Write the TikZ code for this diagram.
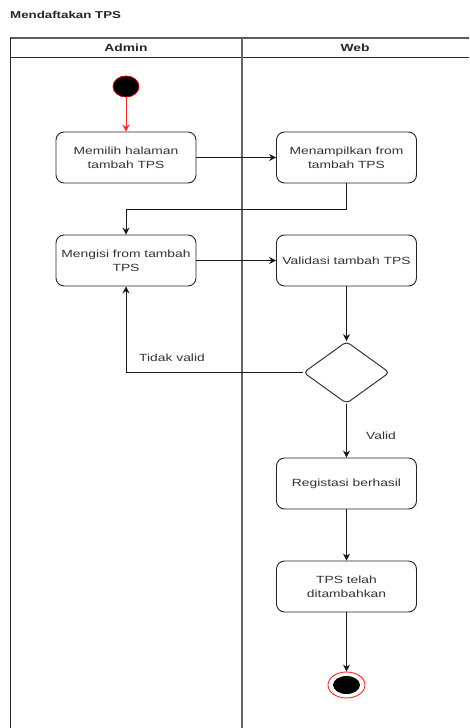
\documentclass[tikz,border=0pt]{standalone}
\usepackage{fontspec}
\setmainfont{Liberation Sans}[FakeStretch=1.33]
\usetikzlibrary{shapes.geometric,arrows.meta}
\tikzset{
  act/.style={draw=black!85, line width=0.9pt, rounded corners=8pt, minimum width=140pt, minimum height=51pt, align=center, inner sep=2pt, text=black!80, font=\fontsize{10.4}{14}\selectfont},
  arr/.style={draw=black!90, line width=0.9pt, -{Stealth[length=7pt,width=7pt]}},
  lane/.style={line width=1pt, draw=black!85},
  lbl/.style={text=black!80, font=\fontsize{10.4}{13}\selectfont}
}
\begin{document}
\begin{tikzpicture}[x=1pt,y=-1pt]
\useasboundingbox (0,0) rectangle (469,728);
\fill[white] (0,0) rectangle (469,728);
% title
\node[anchor=west, inner sep=0, text=black!85, font=\fontsize{10}{12}\selectfont\bfseries] (title) at (10,15) {Mendaftakan TPS};
% pool
\draw[lane, draw=black!65, line width=1.3pt] (10,38) -- (469,38);
\draw[lane] (10,57) -- (469,57);
\draw[lane] (10,38) -- (10,728);
\draw[lane, draw=black!60, line width=1.4pt] (242,38) -- (242,728);
\node[font=\fontsize{10.4}{12}\selectfont\bfseries, text=black!85] (hadmin) at (126,47.5) {Admin};
\node[font=\fontsize{10.4}{12}\selectfont\bfseries, text=black!85] (hweb) at (355,47.5) {Web};
% start
\node[ellipse, fill=black, draw=red!80!black, line width=0.8pt, minimum width=26pt, minimum height=21pt, inner sep=0] (start) at (126,86.5) {};
% activities
\node[act] (b1) at (126,157.5) {Memilih halaman\\tambah TPS};
\node[act] (b2) at (346.5,157.5) {Menampilkan from\\tambah TPS};
\node[act] (b3) at (126,260.5) {Mengisi from tambah\\TPS};
\node[act] (b4) at (346.5,260.5) {Validasi tambah TPS};
\node[diamond, draw=black!85, line width=0.9pt, aspect=1.39, minimum width=86pt, minimum height=62pt, inner sep=0, rounded corners=4pt] (dec) at (346.5,372.5) {};
\node[act] (b5) at (346.5,483.5) {Registasi berhasil};
\node[act] (b6) at (346.5,586.5) {TPS telah\\ditambahkan};
% end
\node[ellipse, draw=red!85, line width=0.9pt, minimum width=37pt, minimum height=26pt, inner sep=0] (endo) at (346.5,685) {};
\node[ellipse, fill=black, minimum width=27pt, minimum height=18pt, inner sep=0] (endi) at (346.5,685) {};
% connectors
\draw[arr, draw=red!85] (start) -- (b1);
\draw[arr] (b1) -- (b2);
\coordinate (c1) at (346.5,209);
\draw[arr] (b2.south) -- (c1) -| (b3.north);
\draw[arr] (b3) -- (b4);
\draw[arr] (b4) -- (dec);
\draw[arr] (dec.west) -| (b3.south);
\node[lbl] (tv) at (172,358) {Tidak valid};
\draw[arr] (dec) -- (b5);
\node[lbl] (va) at (381,435.5) {Valid};
\draw[arr] (b5) -- (b6);
\draw[arr] (b6) -- (endo);
\end{tikzpicture}
\end{document}
